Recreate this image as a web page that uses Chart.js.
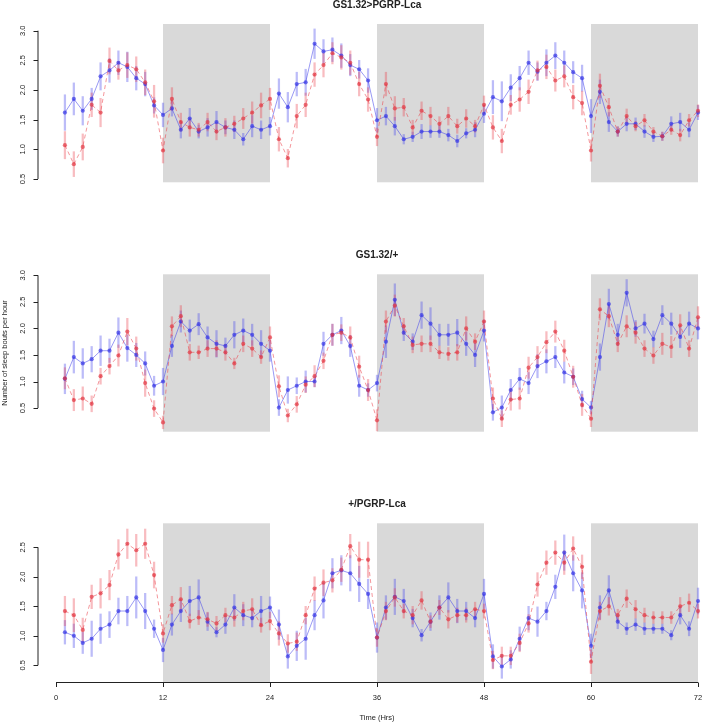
<!DOCTYPE html>
<html><head><meta charset="utf-8">
<script src="https://cdn.jsdelivr.net/npm/chart.js@4.4.0/dist/chart.umd.min.js"></script>
<style>
html,body{margin:0;padding:0;background:#fff;}
#wrap{position:relative;width:703px;height:722px;overflow:hidden;background:#fff;}
canvas{position:absolute;left:0;}
</style></head><body>
<div id="wrap">
<canvas id="c1" width="703" height="240" style="top:0px;width:703px;height:240px"></canvas>
<canvas id="c2" width="703" height="230" style="top:240px;width:703px;height:230px"></canvas>
<canvas id="c3" width="703" height="252" style="top:470px;width:703px;height:252px"></canvas>
</div>
<script>
// ---------- data ----------
const hours = [1,2,3,4,5,6,7,8,9,10,11,12,13,14,15,16,17,18,19,20,21,22,23,24,
  25,26,27,28,29,30,31,32,33,34,35,36,37,38,39,40,41,42,43,44,45,46,47,48,
  49,50,51,52,53,54,55,56,57,58,59,60,61,62,63,64,65,66,67,68,69,70,71,72];
const xTicks = [0,12,24,36,48,60,72];
const darkBands = [[12,24],[36,48],[60,72]];
const titles = ["GS1.32>PGRP-Lca","GS1.32/+","+/PGRP-Lca"];
const yTicks1 = [0.5,1.0,1.5,2.0,2.5,3.0];
const yTicks2 = [0.5,1.0,1.5,2.0,2.5,3.0];
const yTicks3 = [0.5,1.0,1.5,2.0,2.5];

const p1Blue = [1.62,1.85,1.65,1.85,2.23,2.33,2.46,2.39,2.20,2.10,1.74,1.58,1.69,1.33,1.52,1.30,1.37,1.46,1.37,1.33,1.17,1.39,1.33,1.39,
  1.94,1.71,2.10,2.13,2.78,2.65,2.68,2.58,2.42,2.35,2.16,1.49,1.56,1.39,1.17,1.21,1.30,1.30,1.30,1.24,1.14,1.27,1.33,1.60,
  1.88,1.81,2.04,2.20,2.46,2.31,2.46,2.58,2.46,2.30,2.20,1.56,1.97,1.46,1.30,1.43,1.43,1.30,1.21,1.22,1.43,1.46,1.33,1.62];
const p1BlueErr = [.30,.27,.24,.18,.23,.20,.20,.25,.20,.20,.13,.20,.13,.14,.17,.11,.15,.18,.11,.15,.10,.18,.15,.15,
  .25,.25,.20,.22,.25,.20,.20,.20,.18,.15,.20,.20,.15,.15,.08,.08,.12,.10,.10,.10,.10,.08,.12,.15,
  .28,.33,.22,.20,.20,.15,.22,.22,.20,.18,.22,.28,.20,.16,.08,.12,.10,.10,.08,.07,.12,.15,.12,.12];
const p1Red = [1.07,0.75,1.04,1.75,1.62,2.49,2.33,2.42,2.35,2.13,1.81,0.98,1.85,1.46,1.37,1.33,1.46,1.30,1.37,1.43,1.52,1.62,1.74,1.85,
  1.17,0.85,1.56,1.75,2.26,2.42,2.62,2.55,2.46,2.10,1.84,1.21,2.10,1.69,1.71,1.37,1.65,1.56,1.43,1.56,1.39,1.52,1.39,1.75,
  1.37,1.14,1.75,1.84,1.97,2.33,2.39,2.16,2.23,1.88,1.78,0.98,2.07,1.71,1.30,1.56,1.39,1.49,1.30,1.22,1.33,1.24,1.49,1.65];
const p1RedErr = [.23,.21,.22,.20,.24,.22,.15,.21,.21,.21,.27,.21,.19,.15,.15,.11,.15,.14,.15,.13,.17,.18,.21,.18,
  .20,.15,.20,.20,.20,.20,.18,.20,.20,.20,.20,.15,.20,.20,.15,.12,.15,.15,.12,.15,.12,.15,.10,.15,
  .20,.20,.16,.20,.20,.16,.20,.18,.18,.20,.20,.18,.20,.15,.08,.12,.08,.10,.07,.07,.08,.10,.10,.10];

const p2Blue = [1.05,1.46,1.34,1.42,1.58,1.58,1.92,1.63,1.50,1.34,0.92,1.00,1.67,2.13,1.96,2.08,1.83,1.71,1.67,1.88,1.96,1.88,1.71,1.58,
  0.51,0.84,0.92,1.00,1.00,1.71,1.88,1.96,1.67,0.92,0.84,0.97,1.75,2.54,1.92,1.75,2.25,2.09,1.88,1.88,1.92,1.71,1.50,1.96,
  0.42,0.51,0.84,1.05,0.97,1.29,1.38,1.46,1.17,1.09,0.67,0.51,1.46,2.46,1.88,2.67,2.00,2.09,1.80,2.25,2.09,1.84,2.09,2.00];
const p2BlueErr = [.28,.30,.28,.24,.28,.22,.28,.25,.22,.22,.18,.25,.20,.20,.20,.20,.20,.25,.15,.25,.22,.20,.25,.20,
  .15,.25,.15,.20,.10,.22,.20,.25,.20,.20,.12,.15,.30,.30,.15,.15,.25,.30,.20,.20,.25,.22,.22,.20,
  .15,.22,.20,.20,.20,.22,.22,.20,.20,.15,.15,.12,.25,.28,.20,.25,.15,.18,.15,.18,.20,.20,.22,.20];
const p2Red = [1.06,0.65,0.68,0.58,1.10,1.29,1.49,1.94,1.62,0.97,0.49,0.23,2.04,2.23,1.55,1.55,1.62,1.62,1.55,1.34,1.71,1.62,1.46,1.83,
  0.91,0.36,0.57,0.94,1.10,1.39,1.88,1.92,1.83,1.28,0.84,0.27,2.13,2.43,2.04,1.69,1.71,1.71,1.55,1.52,1.55,2.00,1.75,2.13,
  0.68,0.30,0.66,0.68,1.26,1.46,1.74,1.94,1.58,1.09,0.56,0.30,2.36,2.23,1.71,2.04,1.92,1.62,1.49,1.71,1.65,2.06,1.62,2.21];
const p2RedErr = [.20,.20,.22,.15,.15,.15,.20,.25,.22,.25,.15,.12,.18,.20,.15,.12,.15,.15,.15,.10,.15,.15,.12,.20,
  .20,.12,.15,.15,.20,.15,.20,.15,.20,.20,.20,.20,.20,.20,.15,.15,.15,.15,.12,.12,.15,.22,.15,.20,
  .20,.15,.20,.20,.20,.20,.20,.20,.20,.20,.20,.15,.20,.20,.15,.20,.20,.15,.15,.20,.20,.20,.15,.20];

const p3Blue = [1.06,1.00,0.88,0.95,1.12,1.19,1.42,1.42,1.65,1.42,1.12,0.76,1.19,1.42,1.59,1.65,1.24,1.06,1.19,1.48,1.35,1.30,1.42,1.48,
  1.19,0.65,0.83,0.95,1.35,1.60,2.06,2.11,2.06,1.88,1.71,0.97,1.48,1.66,1.59,1.30,1.01,1.24,1.48,1.65,1.42,1.42,1.30,1.71,
  0.65,0.48,0.60,0.95,1.30,1.24,1.42,1.83,2.41,2.06,1.77,0.83,1.48,1.77,1.24,1.12,1.19,1.12,1.12,1.12,1.01,1.35,1.12,1.59];
const p3BlueErr = [.20,.20,.18,.30,.25,.22,.22,.25,.35,.30,.15,.20,.18,.18,.25,.30,.15,.08,.15,.22,.18,.15,.25,.18,
  .25,.20,.25,.35,.25,.30,.25,.25,.30,.30,.25,.25,.20,.30,.20,.15,.10,.15,.20,.25,.20,.15,.15,.25,
  .20,.20,.15,.20,.20,.25,.15,.20,.30,.30,.30,.20,.20,.25,.12,.10,.10,.10,.08,.08,.08,.15,.12,.22];
const p3Red = [1.42,1.35,1.10,1.66,1.72,1.86,2.38,2.56,2.45,2.56,2.03,1.04,1.52,1.62,1.25,1.31,1.28,1.21,1.35,1.31,1.42,1.45,1.18,1.25,
  1.04,0.87,0.90,1.35,1.80,1.90,1.94,2.12,2.52,2.29,2.29,0.97,1.42,1.65,1.42,1.35,1.60,1.24,1.48,1.28,1.35,1.35,1.45,1.42,
  0.59,0.66,0.66,0.88,1.21,1.87,2.24,2.41,2.24,2.48,2.17,0.56,1.42,1.50,1.35,1.63,1.45,1.35,1.31,1.31,1.31,1.50,1.56,1.42];
const p3RedErr = [.25,.28,.20,.20,.25,.25,.25,.25,.27,.25,.22,.15,.15,.20,.12,.12,.12,.12,.12,.15,.15,.18,.12,.15,
  .20,.15,.15,.15,.20,.22,.20,.20,.20,.30,.30,.15,.15,.15,.12,.15,.15,.10,.12,.15,.12,.12,.12,.12,
  .15,.15,.15,.15,.15,.20,.20,.20,.20,.20,.20,.20,.15,.15,.10,.15,.15,.12,.10,.10,.10,.15,.15,.12];

// ---------- styling ----------
const FONT = "'Liberation Sans', Arial, Helvetica, sans-serif";
const BLUE_PT = 'rgba(50,50,228,0.68)', BLUE_BAR = 'rgba(70,70,235,0.36)', BLUE_LINE = 'rgba(70,70,235,0.55)';
const RED_PT = 'rgba(226,50,62,0.68)', RED_BAR = 'rgba(235,60,70,0.34)', RED_LINE = 'rgba(235,65,75,0.55)';

const rPlugin = {
  id: 'rstyle',
  beforeDatasetsDraw(chart) {
    const {ctx, chartArea: ca, scales: {x}} = chart;
    ctx.save();
    ctx.fillStyle = '#d9d9d9';
    darkBands.forEach(([a,b]) => {
      const x0 = x.getPixelForValue(a), x1 = x.getPixelForValue(b);
      ctx.fillRect(x0, ca.top, x1 - x0, ca.bottom - ca.top);
    });
    ctx.restore();
  },
  afterDraw(chart) {
    const o = chart.options.plugins.rstyle;
    const {ctx, chartArea: ca, scales: {x, y}} = chart;
    ctx.save();
    ctx.strokeStyle = '#222'; ctx.fillStyle = '#222'; ctx.lineWidth = 1;
    const ax = ca.left - 18.5;
    const yt = o.yTicks;
    ctx.beginPath();
    ctx.moveTo(ax + 0.5, y.getPixelForValue(yt[0]));
    ctx.lineTo(ax + 0.5, y.getPixelForValue(yt[yt.length-1]));
    yt.forEach(v => {
      const py = Math.round(y.getPixelForValue(v)) + 0.5;
      ctx.moveTo(ax + 0.5, py); ctx.lineTo(ax - 4, py);
    });
    ctx.stroke();
    ctx.font = '7.5px ' + FONT;
    ctx.textAlign = 'center'; ctx.textBaseline = 'middle';
    yt.forEach(v => {
      const py = y.getPixelForValue(v);
      ctx.save(); ctx.translate(ax - 14.5, py); ctx.rotate(-Math.PI/2);
      ctx.fillText(v.toFixed(1), 0, 0); ctx.restore();
    });
    ctx.font = 'bold 10px ' + FONT;
    ctx.textAlign = 'center'; ctx.textBaseline = 'alphabetic';
    ctx.fillText(o.title, (ca.left + ca.right) / 2, o.titleY);
    if (o.yLabel) {
      ctx.font = '7.5px ' + FONT;
      ctx.save(); ctx.translate(5, (ca.top + ca.bottom) / 2); ctx.rotate(-Math.PI/2);
      ctx.textBaseline = 'middle';
      ctx.fillText(o.yLabel, 0, 0); ctx.restore();
    }
    if (o.xAxis) {
      const py = Math.round(ca.bottom) + 0.5;
      ctx.beginPath();
      ctx.moveTo(x.getPixelForValue(xTicks[0]), py);
      ctx.lineTo(x.getPixelForValue(xTicks[xTicks.length-1]), py);
      xTicks.forEach(v => {
        const px = Math.round(x.getPixelForValue(v)) + 0.5;
        ctx.moveTo(px, py); ctx.lineTo(px, py + 4.5);
      });
      ctx.stroke();
      ctx.font = '7.5px ' + FONT;
      ctx.textBaseline = 'middle';
      xTicks.forEach(v => ctx.fillText(String(v), x.getPixelForValue(v), py + 15.5));
      ctx.fillText('Time (Hrs)', (ca.left + ca.right) / 2, py + 35);
    }
    ctx.restore();
  }
};

function errData(v, e) { return hours.map((h, i) => ({x: h, y: [v[i] - e[i], v[i] + e[i]]})); }
function ptData(v) { return hours.map((h, i) => ({x: h, y: v[i]})); }

function makePanel(id, blue, blueErr, red, redErr, yMin, yMax, pad, opts) {
  const lineDs = (data, ptc, lc, dash) => ({
    type: 'line', data, borderColor: lc, backgroundColor: ptc, borderWidth: 1,
    borderDash: dash, pointRadius: 2.1, pointBorderWidth: 0, pointBackgroundColor: ptc,
    tension: 0, clip: false, fill: false
  });
  const barDs = (data, c) => ({
    type: 'bar', data, backgroundColor: c, borderWidth: 0, barThickness: 1.6,
    grouped: false, clip: false
  });
  return new Chart(document.getElementById(id), {
    type: 'line',
    data: { datasets: [
      lineDs(ptData(red), RED_PT, RED_LINE, [4,3]),
      lineDs(ptData(blue), BLUE_PT, BLUE_LINE, []),
      barDs(errData(red, redErr), RED_BAR),
      barDs(errData(blue, blueErr), BLUE_BAR)
    ]},
    options: {
      responsive: false, animation: false, devicePixelRatio: 1,
      layout: { padding: pad },
      scales: {
        x: { type: 'linear', min: 0, max: 72, offset: false, display: false, grid: {offset: false} },
        y: { type: 'linear', min: yMin, max: yMax, beginAtZero: false, display: false }
      },
      plugins: { legend: {display: false}, tooltip: {enabled: false}, title: {display: false},
        rstyle: opts }
    },
    plugins: [rPlugin]
  });
}

makePanel('c1', p1Blue, p1BlueErr, p1Red, p1RedErr, 0.444, 3.113,
  {left: 56, right: 5, top: 24, bottom: 57.7},
  {title: titles[0], titleY: 7.5, yTicks: yTicks1});
makePanel('c2', p2Blue, p2BlueErr, p2Red, p2RedErr, 0.055, 3.019,
  {left: 56, right: 5, top: 34.3, bottom: 38.3},
  {title: titles[1], titleY: 17.5, yTicks: yTicks2, yLabel: 'Number of sleep bouts per hour'});
makePanel('c3', p3Blue, p3BlueErr, p3Red, p3RedErr, 0.212, 2.907,
  {left: 56, right: 5, top: 53.3, bottom: 39.7},
  {title: titles[2], titleY: 37, yTicks: yTicks3, xAxis: true});
</script>
</body></html>
